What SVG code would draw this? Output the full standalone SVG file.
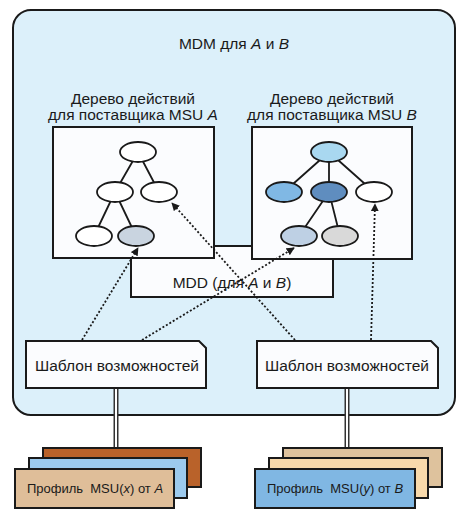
<svg xmlns="http://www.w3.org/2000/svg" width="466" height="517" viewBox="0 0 466 517">
<defs>
<style>
text{font-family:"Liberation Sans",Arial,sans-serif;fill:#1a1a1a}
.t15{font-size:15.5px}
.t12{font-size:13px}
.box{fill:#fbfcfe;stroke:#1a1a1a;stroke-width:2}
.el{stroke:#1a1a1a;stroke-width:1.8}
.edge{stroke:#1a1a1a;stroke-width:1.8;fill:none}
.dot{stroke:#1a1a1a;stroke-width:1.8;stroke-dasharray:2 2;fill:none}
.card{stroke:#1a1a1a;stroke-width:2}
.dl1{stroke:#333;stroke-width:5}
.dl2{stroke:#ffffff;stroke-width:2}
</style>
<marker id="ah" viewBox="0 0 10 10" refX="9" refY="5" markerWidth="4.5" markerHeight="4.5" orient="auto">
<path d="M0,0 L10,5 L0,10 Z" fill="#1a1a1a"/>
</marker>
</defs>
<rect width="466" height="517" fill="#ffffff"/>
<g id="mdm">
<rect x="13" y="10" width="442" height="405" rx="18" fill="#dcf0fa" stroke="#1a1a1a" stroke-width="2"/>
<text class="t15" x="234" y="49" text-anchor="middle">MDM для <tspan font-style="italic">A</tspan> и <tspan font-style="italic">B</tspan></text>
</g>
<g id="mdd">
<rect class="box" x="131" y="246" width="202" height="51" fill="#ffffff"/>
<text class="t15" x="232" y="288" text-anchor="middle">MDD (для <tspan font-style="italic">A</tspan> и <tspan font-style="italic">B</tspan>)</text>
</g>
<g id="treeA">
<text class="t15" x="133" y="104" text-anchor="middle">Дерево действий</text>
<text class="t15" x="133" y="120" text-anchor="middle">для поставщика MSU <tspan font-style="italic">A</tspan></text>
<rect class="box" x="53" y="127" width="161" height="131"/>
<path class="edge" d="M138,152 L115,192 M138,152 L159,192 M115,192 L94,236 M115,192 L136,236"/>
<ellipse class="el" cx="138" cy="152" rx="18" ry="10" fill="#ffffff"/>
<ellipse class="el" cx="115" cy="192" rx="18" ry="10" fill="#ffffff"/>
<ellipse class="el" cx="159" cy="192" rx="18" ry="10" fill="#ffffff"/>
<ellipse class="el" cx="94" cy="236" rx="18" ry="10" fill="#ffffff"/>
<ellipse class="el" cx="136" cy="236" rx="18" ry="10" fill="#c9d4e0"/>
</g>
<g id="treeB">
<text class="t15" x="332" y="104" text-anchor="middle">Дерево действий</text>
<text class="t15" x="332" y="120" text-anchor="middle">для поставщика MSU <tspan font-style="italic">B</tspan></text>
<rect class="box" x="252" y="127" width="160" height="132"/>
<path class="edge" d="M329,152 L284,192 M329,152 L329,192 M329,152 L374,192 M329,192 L299,236 M329,192 L340,236"/>
<ellipse class="el" cx="329" cy="152" rx="18" ry="10" fill="#a9d8f0"/>
<ellipse class="el" cx="284" cy="192" rx="18" ry="10" fill="#80b8e4"/>
<ellipse class="el" cx="329" cy="192" rx="18" ry="10" fill="#5f8dbf"/>
<ellipse class="el" cx="374" cy="192" rx="18" ry="10" fill="#ffffff"/>
<ellipse class="el" cx="299" cy="236" rx="18" ry="10" fill="#bed0e4"/>
<ellipse class="el" cx="340" cy="236" rx="18" ry="10" fill="#d9d9d9"/>
</g>
<g id="templateA">
<path class="box" d="M26,341 H199 L206,348 V388 H26 Z" fill="#ffffff"/>
<text class="t15" x="117" y="371" text-anchor="middle">Шаблон возможностей</text>
</g>
<g id="templateB">
<path class="box" d="M257,341 H431 L438,348 V388 H257 Z" fill="#ffffff"/>
<text class="t15" x="347" y="371" text-anchor="middle">Шаблон возможностей</text>
</g>
<g id="profileA">
<rect class="card" x="43" y="448" width="158" height="39" fill="#b9622a"/>
<rect class="card" x="29" y="458" width="158" height="40" fill="#9ccaee"/>
<rect class="card" x="15" y="469" width="159" height="39" fill="#dfbe99"/>
<text class="t12" x="95" y="493" text-anchor="middle">Профиль&#160; MSU(<tspan font-style="italic">x</tspan>) от <tspan font-style="italic">A</tspan></text>
</g>
<g id="profileB">
<rect class="card" x="283" y="448" width="159" height="39" fill="#dec29d"/>
<rect class="card" x="269" y="458" width="159" height="40" fill="#f8d9ab"/>
<rect class="card" x="255" y="469" width="160" height="39" fill="#80b7e3"/>
<text class="t12" x="335" y="493" text-anchor="middle">Профиль&#160; MSU(<tspan font-style="italic">y</tspan>) от <tspan font-style="italic">B</tspan></text>
</g>
<g id="connectors">
<line class="dl1" x1="116" y1="389" x2="116" y2="447"/>
<line class="dl2" x1="116" y1="389" x2="116" y2="447"/>
<line class="dl1" x1="347" y1="389" x2="347" y2="447"/>
<line class="dl2" x1="347" y1="389" x2="347" y2="447"/>
<line class="dot" x1="82" y1="340" x2="138" y2="248" marker-end="url(#ah)"/>
<line class="dot" x1="142" y1="340" x2="294" y2="248" marker-end="url(#ah)"/>
<line class="dot" x1="295" y1="340" x2="172" y2="203" marker-end="url(#ah)"/>
<line class="dot" x1="371" y1="340" x2="375" y2="204" marker-end="url(#ah)"/>
</g>
</svg>
